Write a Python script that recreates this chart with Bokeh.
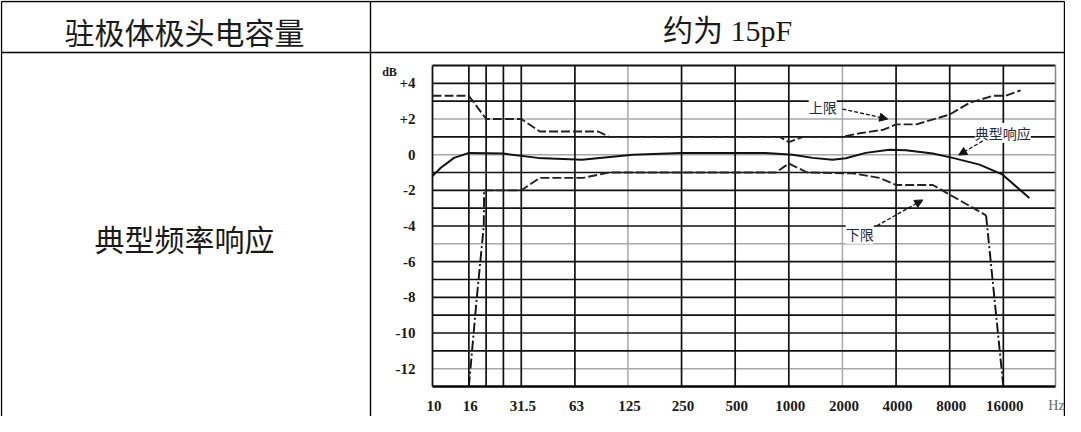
import math
from bokeh.plotting import figure
from bokeh.models import Range1d, LogScale, Arrow, NormalHead
from bokeh.core.properties import value
from bokeh.embed import file_html
from bokeh.resources import INLINE

# ---------------- data ----------------
header_left = "驻极体极头电容量"
header_right = "约为 15pF"
row_label = "典型频率响应"

x_tick_hz = [10, 16, 31.5, 63, 125, 250, 500, 1000, 2000, 4000, 8000, 16000]
x_tick_labels = ["10", "16", "31.5", "63", "125", "250", "500", "1000", "2000", "4000", "8000", "16000"]
y_tick_db = [4, 2, 0, -2, -4, -6, -8, -10, -12]
y_tick_labels = ["+4", "+2", "0", "-2", "-4", "-6", "-8", "-10", "-12"]

grid_hz_dark = [16, 20, 25, 31.5, 63, 250, 500, 1000, 4000, 8000, 16000]
grid_hz_light = [125, 2000]
grid_db_dark = [4, 3, 1, -1, -2, -3, -4, -6, -7, -8, -9, -10, -11]
grid_db_light = [2, 0, -5, -12]

typ_hz = [10, 11.1, 13.2, 16, 25, 39, 69, 133, 250, 740, 1050, 1360, 1760, 2090, 2700,
          3670, 4540, 6430, 8320, 11760, 15860, 22400]
typ_db = [-1.2, -0.75, -0.18, 0.1, 0.06, -0.18, -0.28, 0.0, 0.1, 0.1, 0.0, -0.18, -0.28, -0.2, 0.1,
          0.28, 0.25, 0.06, -0.18, -0.56, -1.12, -2.43]

upper_hz = [10, 16, 20, 31.5, 40, 85, 98, 890, 1000, 1200, 2000, 2500, 3400, 4000, 5200,
            8000, 10300, 14000, 16500, 20000]
upper_db = [3.3, 3.3, 2.0, 2.0, 1.3, 1.3, 1.0, 1.0, 0.7, 1.0, 1.0, 1.2, 1.4, 1.7, 1.7,
            2.25, 2.9, 3.3, 3.3, 3.6]

lower_hz = [19.5, 31.5, 40, 70, 98, 845, 1000, 1270, 2290, 3220, 4000, 6430, 11800, 12800]
lower_db = [-2.0, -2.0, -1.3, -1.3, -1.0, -1.0, -0.5, -1.0, -1.05, -1.3, -1.7, -1.7, -3.2, -3.4]

lower_left_hz = [16, 17.7, 19.4, 19.5]
lower_left_db = [-13, -8.1, -4.0, -2.0]
lower_right_hz = [12800, 16000]
lower_right_db = [-3.4, -13]

note_text = ["上限", "典型响应", "下限"]
note_hz = [1550, 15890, 2500]
note_db = [2.67, 1.22, -4.44]
arrow_start_hz = [2000, 12270, 3117]
arrow_start_db = [2.56, 0.77, -3.99]
arrow_end_hz = [3590, 8990, 5650]
arrow_end_db = [2.0, -0.02, -2.54]

# ---------------- layout ----------------
W, H = 1065, 416
CH_L, CH_R, CH_T, CH_B = 432, 1055, 65, 386     # chart box in canvas px
F_L, F_R = 10, 31400
DB_B, DB_T = -13, 5

lfl, lfr = math.log10(F_L), math.log10(F_R)
k = (lfr - lfl) / (CH_R - CH_L)
f_start = 10 ** (lfl - CH_L * k)
f_end = 10 ** (lfr + (W - CH_R) * k)
dbk = (DB_T - DB_B) / (CH_B - CH_T)
db_start = DB_B - (H - CH_B) * dbk
db_end = DB_T + CH_T * dbk

p = figure(width=W, height=H, x_range=Range1d(0, W), y_range=Range1d(H, 0),
           output_backend="svg", toolbar_location=None, min_border=0,
           x_axis_location=None, y_axis_location=None, outline_line_color=None,
           background_fill_color="white", border_fill_color="white")
p.xgrid.visible = False
p.ygrid.visible = False
p.extra_x_ranges = {"f": Range1d(f_start, f_end)}
p.extra_x_scales = {"f": LogScale()}
p.extra_y_ranges = {"db": Range1d(db_start, db_end)}

# ---------------- table ----------------
TOP, HDR, LEFT, DIV, RIGHT = 1, 52, 1, 370, 1064
p.segment(x0=[LEFT, LEFT, LEFT, DIV, RIGHT], y0=[TOP, HDR, TOP, TOP, TOP],
          x1=[RIGHT, RIGHT, LEFT, DIV, RIGHT], y1=[TOP, HDR, H, H, H],
          line_color="#000000", line_width=1.4)

cjk = value("Noto Sans CJK SC")
p.text(x=[184], y=[30], text=[header_left], text_font=cjk, text_font_size="30px",
       text_align="center", text_baseline="middle", text_color="#1a1a1a")
p.text(x=[727], y=[30], text=[header_right], text_font=value("Liberation Serif, Noto Sans CJK SC"),
       text_font_size="30px", text_align="center", text_baseline="middle", text_color="#1a1a1a")
p.text(x=[184], y=[237], text=[row_label], text_font=cjk, text_font_size="30px",
       text_align="center", text_baseline="middle", text_color="#1a1a1a")

# ---------------- chart grid ----------------
R = dict(x_range_name="f", y_range_name="db")
p.segment(x0=grid_hz_light, y0=[DB_B] * len(grid_hz_light), x1=grid_hz_light, y1=[DB_T] * len(grid_hz_light),
          line_color="#a8a8a8", line_width=1.5, **R)
p.segment(x0=[F_L] * len(grid_db_light), y0=grid_db_light, x1=[F_R] * len(grid_db_light), y1=grid_db_light,
          line_color="#a8a8a8", line_width=1.5, **R)
p.segment(x0=grid_hz_dark, y0=[DB_B] * len(grid_hz_dark), x1=grid_hz_dark, y1=[DB_T] * len(grid_hz_dark),
          line_color="#111111", line_width=1.7, **R)
p.segment(x0=[F_L] * len(grid_db_dark), y0=grid_db_dark, x1=[F_R] * len(grid_db_dark), y1=grid_db_dark,
          line_color="#111111", line_width=1.7, **R)
# frame: left, top, right (light), bottom (heavy)
p.segment(x0=[F_L, F_L], y0=[DB_B, DB_T], x1=[F_L, F_R], y1=[DB_T, DB_T],
          line_color="#111111", line_width=1.8, **R)
p.segment(x0=[F_R], y0=[DB_B], x1=[F_R], y1=[DB_T], line_color="#888888", line_width=1.5, **R)
p.segment(x0=[F_L], y0=[DB_B], x1=[F_R], y1=[DB_B], line_color="#000000", line_width=2.6, **R)

# ---------------- curves ----------------
p.line(typ_hz, typ_db, line_color="#111111", line_width=2.0, **R)
p.line(upper_hz, upper_db, line_color="#222222", line_width=1.9, line_dash="9 3", **R)
p.line(lower_hz, lower_db, line_color="#222222", line_width=1.9, line_dash="9 3", **R)
p.line(lower_left_hz, lower_left_db, line_color="#111111", line_width=1.9, line_dash="10 3 2 3", **R)
p.line(lower_right_hz, lower_right_db, line_color="#111111", line_width=1.9, line_dash="10 3 2 3", **R)

# ---------------- ticks ----------------
serif = value("Liberation Serif")
p.text(x=x_tick_hz, y=[DB_B] * len(x_tick_hz), text=x_tick_labels, x_offset=1.5, y_offset=19,
       text_font=serif, text_font_style="bold", text_font_size="15px", text_align="center",
       text_baseline="middle", text_color="#1a1a1a", **R)
p.text(x=[F_R], y=[DB_B], text=["Hz"], x_offset=1, y_offset=19, text_font=serif, text_font_size="14px",
       text_align="center", text_baseline="middle", text_color="#666666", **R)
p.text(x=[F_L] * len(y_tick_db), y=y_tick_db, text=y_tick_labels, x_offset=-17,
       text_font=serif, text_font_style="bold", text_font_size="15px", text_align="right",
       text_baseline="middle", text_color="#1a1a1a", **R)
p.text(x=[F_L], y=[4], text=["dB"], x_offset=-43, y_offset=-11, text_font=serif, text_font_style="bold",
       text_font_size="12px", text_align="center", text_baseline="middle", text_color="#1a1a1a", **R)

# ---------------- annotations ----------------
for i in range(len(note_text)):
    p.add_layout(Arrow(x_start=arrow_start_hz[i], y_start=arrow_start_db[i],
                       x_end=arrow_end_hz[i], y_end=arrow_end_db[i],
                       line_color="#111111", line_width=1.3, line_dash="4 2",
                       end=NormalHead(size=8, fill_color="#111111", line_color="#111111"), **R))
p.text(x=note_hz, y=note_db, text=note_text, text_font=cjk, text_font_size="14px",
       text_align="center", text_baseline="middle", text_color="#1f2a44",
       background_fill_color="white", **R)

open("out.html", "w").write(file_html(p, INLINE))
